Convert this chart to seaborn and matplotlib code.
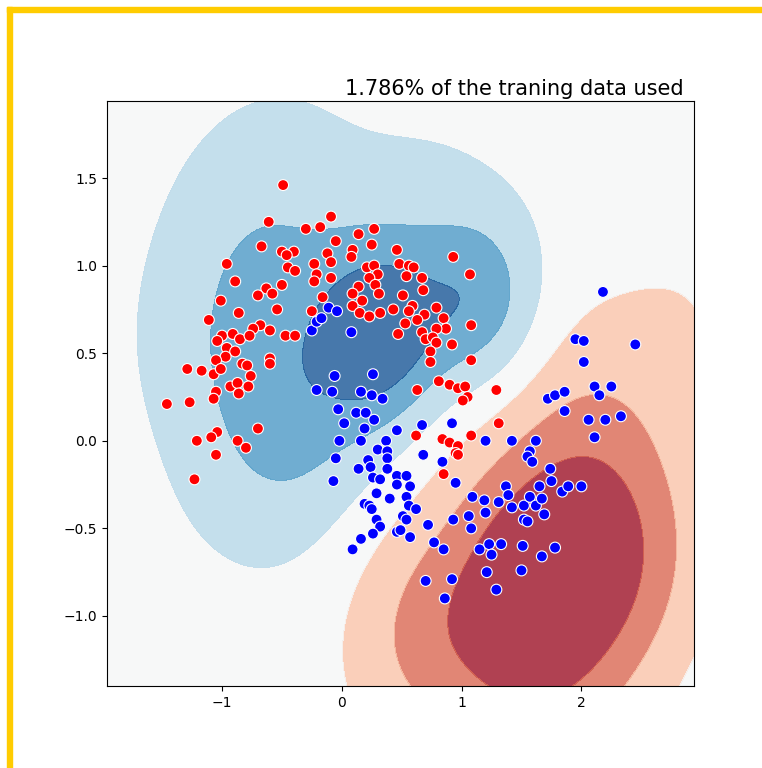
import numpy as np
import pandas as pd
import matplotlib
matplotlib.use("Agg")
import matplotlib.pyplot as plt
import seaborn as sns
from matplotlib.patches import Rectangle

# class "a" samples (drawn red)
red_x = [-0.49,-0.61,-0.30,-0.67,-0.50,-0.40,-0.46,-0.96,-0.45,-0.39,-0.89,-0.50,-0.63,-0.58,-0.70,-1.01,-0.54,-0.86,-1.11,-0.68,
         -0.74,-0.60,-1.00,-0.91,-0.85,-0.77,-0.47,-0.39,-1.04,-0.96,-0.89,-0.97,-1.05,-0.83,-0.79,-0.60,-0.60,-1.29,-1.17,-1.07,
         -1.01,-0.76,-0.93,-0.87,-0.78,-0.86,-1.05,-1.07,-1.46,-1.27,-0.70,-1.04,-1.09,-1.21,-0.87,-0.80,-1.05,-1.23,-0.09,-0.18,
         0.14,0.27,-0.05,-0.12,-0.09,0.09,0.08,0.25,0.46,0.93,-0.23,0.21,0.27,0.48,0.56,0.60,1.07,-0.21,-0.09,0.30,
         0.23,0.54,0.67,-0.23,0.28,0.68,0.14,0.31,0.09,-0.16,0.51,0.17,0.09,0.43,0.59,0.56,0.79,0.69,0.15,0.23,
         0.32,0.85,0.63,0.53,0.87,0.79,1.08,0.67,0.47,0.70,0.76,0.79,0.92,0.74,0.74,1.08,-0.25,0.63,0.81,0.90,
         0.97,1.03,1.05,1.01,0.62,0.84,0.90,0.97,1.08,0.95,0.97,0.85,1.29,1.31]
red_y = [1.46,1.25,1.21,1.11,1.08,1.08,1.06,1.01,0.99,0.97,0.91,0.89,0.87,0.84,0.83,0.80,0.75,0.73,0.69,0.66,
         0.64,0.63,0.60,0.61,0.58,0.60,0.60,0.60,0.57,0.53,0.51,0.48,0.46,0.44,0.43,0.47,0.44,0.41,0.40,0.38,
         0.41,0.37,0.31,0.33,0.31,0.27,0.28,0.24,0.21,0.22,0.07,0.05,0.02,0.00,0.00,-0.04,-0.08,-0.22,1.28,1.22,
         1.18,1.21,1.14,1.07,1.02,1.09,1.05,1.12,1.09,1.05,1.01,0.99,1.00,1.01,1.00,0.99,0.95,0.95,0.93,0.95,
         0.93,0.94,0.93,0.91,0.89,0.86,0.88,0.84,0.84,0.82,0.83,0.80,0.77,0.75,0.77,0.74,0.76,0.72,0.73,0.71,
         0.73,0.70,0.69,0.67,0.64,0.64,0.66,0.62,0.61,0.58,0.59,0.56,0.55,0.51,0.45,0.46,0.74,0.29,0.34,0.32,
         0.30,0.31,0.25,0.23,0.03,0.01,-0.01,-0.03,0.03,-0.07,-0.08,-0.19,0.29,0.10]

# class "b" samples (drawn blue)
blue_x = [-0.25,-0.21,-0.11,-0.04,-0.17,0.08,-0.06,0.26,-0.21,-0.08,0.16,0.25,0.34,-0.03,0.12,0.20,0.02,0.27,0.19,0.46,
          0.67,0.92,-0.02,0.16,0.37,0.30,0.38,0.38,0.68,0.84,1.20,-0.05,0.22,0.24,0.14,0.38,0.26,0.32,0.46,0.54,
          0.46,0.57,-0.07,0.95,0.29,0.40,0.54,0.19,0.23,0.56,0.62,0.25,0.51,0.54,0.29,0.32,0.72,0.93,1.06,1.09,
          1.19,1.20,1.08,0.46,0.49,0.26,0.57,0.16,0.09,0.77,0.85,1.15,0.70,0.92,0.86,1.21,1.72,1.78,1.86,2.11,
          2.25,2.15,1.86,2.06,2.20,2.33,2.11,1.42,1.62,1.57,1.55,1.59,1.74,1.75,1.65,1.84,1.89,2.00,1.37,1.39,
          1.31,1.42,1.52,1.57,1.62,1.67,1.69,1.52,1.55,1.23,1.33,1.25,1.51,1.78,1.67,1.50,1.29,2.18,1.95,2.02,
          2.45,2.02]
blue_y = [0.63,0.68,0.76,0.74,0.70,0.62,0.37,0.38,0.29,0.28,0.28,0.26,0.24,0.18,0.16,0.16,0.10,0.12,0.07,0.06,
          0.09,0.10,0.00,0.00,0.00,-0.05,-0.06,-0.10,-0.08,-0.12,0.00,-0.10,-0.11,-0.15,-0.16,-0.16,-0.21,-0.22,-0.20,-0.20,
          -0.25,-0.26,-0.23,-0.24,-0.30,-0.33,-0.32,-0.36,-0.37,-0.37,-0.39,-0.39,-0.43,-0.45,-0.45,-0.49,-0.48,-0.45,-0.43,-0.32,
          -0.34,-0.41,-0.50,-0.52,-0.51,-0.53,-0.55,-0.56,-0.62,-0.58,-0.62,-0.62,-0.80,-0.79,-0.90,-0.75,0.24,0.26,0.28,0.31,
          0.31,0.26,0.17,0.12,0.12,0.14,0.02,0.00,0.00,-0.06,-0.09,-0.12,-0.16,-0.23,-0.26,-0.29,-0.26,-0.26,-0.26,-0.31,
          -0.35,-0.38,-0.37,-0.32,-0.37,-0.33,-0.42,-0.45,-0.46,-0.59,-0.59,-0.65,-0.60,-0.61,-0.66,-0.74,-0.85,0.85,0.58,0.57,
          0.55,0.45]

# RBF decision function: centres, widths, weights and intercept
kernel_cx = [-1.0, -0.7, 0.0, 0.7, 0.35, 0.0, -0.5, 1.15, -0.3, -1.4, -1.1,
             1.65, 2.4, 2.1, 1.5, 0.6, 2.9, 0.2]
kernel_cy = [0.5, 1.1, 1.15, 1.2, 0.62, 0.5, 0.0, 0.8, 1.6, 0.6, -0.35,
             -0.8, -0.6, 0.2, -1.4, -1.1, 0.7, -1.5]
kernel_width = [0.45, 0.5, 0.45, 0.45, 0.35, 0.45, 0.45, 0.35, 0.5, 0.5, 0.45,
                0.6, 0.5, 0.5, 0.6, 0.45, 0.5, 0.45]
kernel_weight = [0.570, 0.972, 0.074, 0.525, 2.274, 1.086, 1.178, 1.874, 0.191, 0.127, 0.141,
                 -3.037, -1.410, -0.810, -0.914, -1.117, -0.510, -0.140]
intercept = 0.136
contour_levels = [-3.5, -2.5, -1.5, -0.5, 0.5, 1.5, 2.5, 3.5]

title_text = "1.786% of the traning data used"


def decision_function(px, py):
    z = np.full_like(px, intercept)
    for cx, cy, s, wgt in zip(kernel_cx, kernel_cy, kernel_width, kernel_weight):
        z += wgt * np.exp(-((px - cx) ** 2 + (py - cy) ** 2) / (2 * s * s))
    return z


X = np.r_[red_x, blue_x]
Y = np.r_[red_y, blue_y]
h = 0.02
xx, yy = np.meshgrid(np.arange(X.min() - .5, X.max() + .5, h),
                     np.arange(Y.min() - .5, Y.max() + .5, h))
Z = np.clip(decision_function(xx, yy), contour_levels[0] + 0.01, contour_levels[-1] - 0.01)

fig = plt.figure(figsize=(7.62, 7.68), dpi=100)

# gold frame along the top and left edges
fig.patches.append(Rectangle((7 / 762, 0), 5 / 762, 761 / 768, transform=fig.transFigure,
                             color="#ffcc00", zorder=5))
fig.patches.append(Rectangle((7 / 762, 756 / 768), 755 / 762, 5 / 768, transform=fig.transFigure,
                             color="#ffcc00", zorder=5))

ax = fig.add_axes([107 / 762, 82 / 768, 587 / 762, 585 / 768])
ax.contourf(xx, yy, Z, levels=contour_levels, cmap=plt.cm.RdBu, alpha=0.8)

df = pd.DataFrame({"x": X, "y": Y, "cls": ["a"] * len(red_x) + ["b"] * len(blue_x)})
sns.scatterplot(data=df, x="x", y="y", hue="cls", palette={"a": "#ff0000", "b": "#0000ff"},
                s=62, edgecolor="white", linewidth=0.8, legend=False, ax=ax)

ax.set_xlim(xx.min(), xx.max())
ax.set_ylim(yy.min(), yy.max())
ax.set_xlabel("")
ax.set_ylabel("")
ax.annotate(title_text, xy=(0.983, 1), xycoords="axes fraction",
            xytext=(0, 4), textcoords="offset points", ha="right", va="baseline", fontsize=15)

fig.savefig("out.png", dpi=100)
